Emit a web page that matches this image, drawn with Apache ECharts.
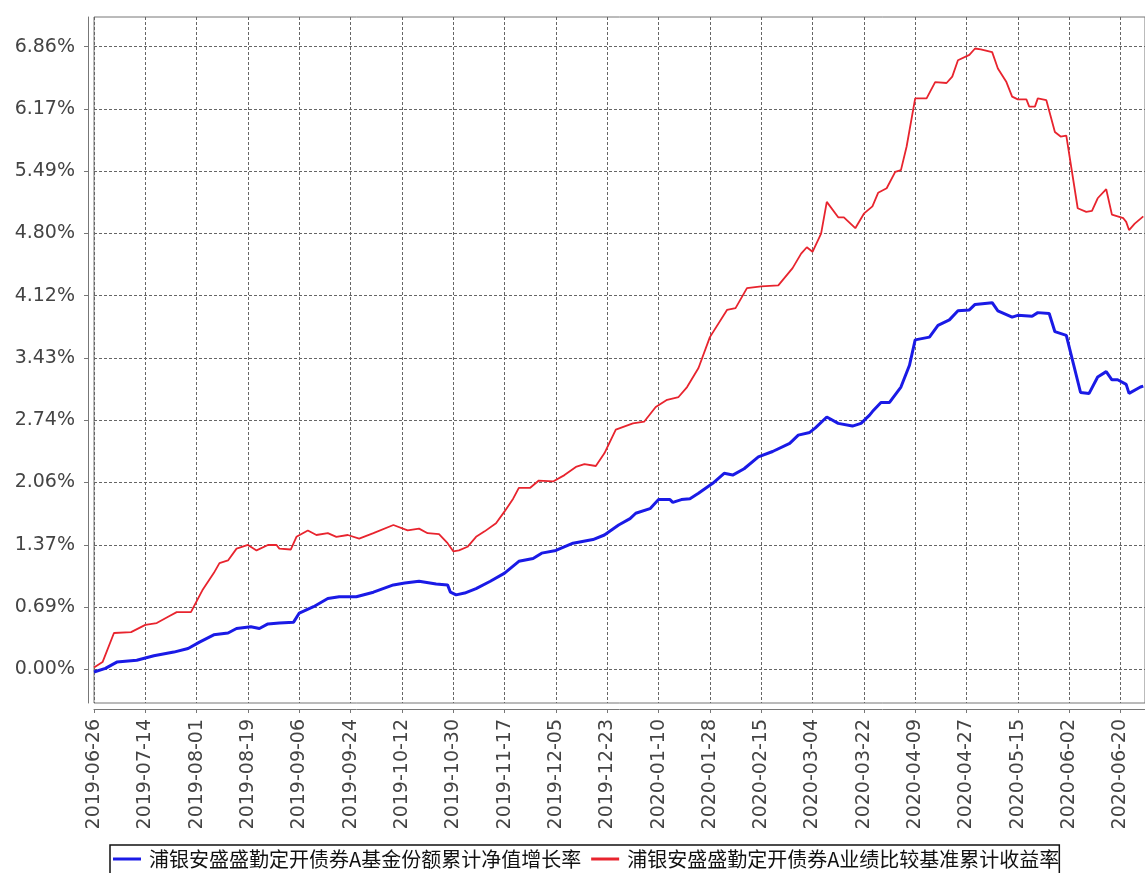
<!DOCTYPE html>
<html>
<head>
<meta charset="utf-8">
<script src="https://cdn.jsdelivr.net/npm/echarts@6/dist/echarts.min.js"></script>
<style>
html,body{margin:0;padding:0;background:#fff;}
#chart{width:1145px;height:873px;}
</style>
</head>
<body>
<div id="chart"></div>
<script>
// ---- data ----
const seriesNames = ['浦银安盛盛勤定开债券A基金份额累计净值增长率', '浦银安盛盛勤定开债券A业绩比较基准累计收益率'];

const xTickLabels = ['2019-06-26','2019-07-14','2019-08-01','2019-08-19','2019-09-06','2019-09-24','2019-10-12','2019-10-30','2019-11-17','2019-12-05','2019-12-23','2020-01-10','2020-01-28','2020-02-15','2020-03-04','2020-03-22','2020-04-09','2020-04-27','2020-05-15','2020-06-02','2020-06-20'];
const yTicks = [0, 0.686, 1.372, 2.058, 2.744, 3.43, 4.116, 4.802, 5.488, 6.174, 6.86];

const fundDates = ['2019-06-26','2019-06-30','2019-07-04','2019-07-11','2019-07-17','2019-07-24','2019-07-29','2019-08-02','2019-08-07','2019-08-12','2019-08-15','2019-08-20','2019-08-23','2019-08-26','2019-08-30','2019-09-04','2019-09-06','2019-09-11','2019-09-16','2019-09-20','2019-09-26','2019-10-02','2019-10-09','2019-10-13','2019-10-18','2019-10-24','2019-10-28','2019-10-29','2019-10-31','2019-11-03','2019-11-07','2019-11-12','2019-11-17','2019-11-22','2019-11-27','2019-11-30','2019-12-05','2019-12-11','2019-12-18','2019-12-22','2019-12-27','2019-12-31','2020-01-02','2020-01-07','2020-01-10','2020-01-14','2020-01-15','2020-01-18','2020-01-21','2020-01-24','2020-01-29','2020-02-02','2020-02-05','2020-02-09','2020-02-14','2020-02-19','2020-02-25','2020-02-28','2020-03-03','2020-03-05','2020-03-09','2020-03-13','2020-03-18','2020-03-21','2020-03-24','2020-03-25','2020-03-28','2020-03-31','2020-04-04','2020-04-07','2020-04-09','2020-04-14','2020-04-17','2020-04-21','2020-04-24','2020-04-28','2020-04-30','2020-05-06','2020-05-08','2020-05-13','2020-05-15','2020-05-20','2020-05-22','2020-05-26','2020-05-28','2020-06-01','2020-06-06','2020-06-09','2020-06-12','2020-06-15','2020-06-17','2020-06-19','2020-06-22','2020-06-23','2020-06-27','2020-06-28'];
const fundValues = [-0.03,0.01,0.08,0.10,0.15,0.19,0.23,0.30,0.38,0.40,0.45,0.47,0.45,0.50,0.51,0.52,0.62,0.69,0.78,0.80,0.80,0.85,0.93,0.95,0.97,0.94,0.93,0.85,0.82,0.84,0.89,0.97,1.06,1.19,1.22,1.28,1.31,1.39,1.43,1.48,1.59,1.66,1.72,1.77,1.87,1.87,1.84,1.87,1.88,1.94,2.05,2.16,2.14,2.21,2.34,2.40,2.49,2.58,2.61,2.66,2.78,2.71,2.68,2.71,2.80,2.84,2.94,2.94,3.11,3.35,3.63,3.66,3.79,3.85,3.95,3.96,4.02,4.04,3.95,3.88,3.90,3.89,3.93,3.92,3.72,3.68,3.05,3.04,3.22,3.28,3.19,3.19,3.14,3.04,3.11,3.12];

const benchDates = ['2019-06-26','2019-06-29','2019-07-03','2019-07-09','2019-07-14','2019-07-18','2019-07-22','2019-07-25','2019-07-30','2019-07-31','2019-08-03','2019-08-07','2019-08-09','2019-08-12','2019-08-15','2019-08-19','2019-08-22','2019-08-26','2019-08-29','2019-08-30','2019-09-03','2019-09-05','2019-09-09','2019-09-12','2019-09-16','2019-09-19','2019-09-23','2019-09-27','2019-10-02','2019-10-09','2019-10-14','2019-10-18','2019-10-21','2019-10-25','2019-10-28','2019-10-30','2019-11-01','2019-11-04','2019-11-07','2019-11-10','2019-11-14','2019-11-17','2019-11-20','2019-11-22','2019-11-26','2019-11-29','2019-12-04','2019-12-08','2019-12-12','2019-12-15','2019-12-19','2019-12-22','2019-12-26','2020-01-01','2020-01-05','2020-01-09','2020-01-13','2020-01-17','2020-01-20','2020-01-24','2020-01-28','2020-02-03','2020-02-06','2020-02-10','2020-02-15','2020-02-21','2020-02-26','2020-02-29','2020-03-02','2020-03-04','2020-03-07','2020-03-09','2020-03-13','2020-03-15','2020-03-19','2020-03-22','2020-03-25','2020-03-27','2020-03-30','2020-04-02','2020-04-04','2020-04-06','2020-04-09','2020-04-13','2020-04-16','2020-04-20','2020-04-22','2020-04-24','2020-04-28','2020-04-30','2020-05-02','2020-05-06','2020-05-08','2020-05-11','2020-05-13','2020-05-15','2020-05-18','2020-05-19','2020-05-21','2020-05-22','2020-05-25','2020-05-28','2020-05-30','2020-06-01','2020-06-05','2020-06-08','2020-06-10','2020-06-12','2020-06-15','2020-06-17','2020-06-21','2020-06-22','2020-06-23','2020-06-25','2020-06-28'];
const benchValues = [0.02,0.08,0.40,0.41,0.49,0.51,0.58,0.63,0.63,0.69,0.87,1.06,1.17,1.20,1.33,1.37,1.31,1.37,1.37,1.33,1.32,1.46,1.53,1.48,1.50,1.46,1.48,1.44,1.50,1.59,1.53,1.55,1.50,1.49,1.39,1.30,1.31,1.35,1.46,1.52,1.61,1.74,1.88,2.00,2.00,2.08,2.07,2.14,2.23,2.26,2.24,2.38,2.64,2.71,2.73,2.89,2.97,3.00,3.11,3.32,3.66,3.96,3.98,4.20,4.22,4.23,4.42,4.58,4.65,4.60,4.80,5.15,4.98,4.98,4.86,5.02,5.10,5.25,5.30,5.48,5.50,5.76,6.29,6.29,6.47,6.46,6.53,6.71,6.77,6.84,6.83,6.80,6.62,6.47,6.31,6.28,6.28,6.20,6.20,6.29,6.27,5.92,5.87,5.88,5.08,5.04,5.05,5.19,5.29,5.01,4.97,4.93,4.84,4.91,4.99];

// ---- helpers ----
const BASE = Date.UTC(2019, 5, 26);
function toDay(s) {
  const p = s.split('-').map(Number);
  return (Date.UTC(p[0], p[1] - 1, p[2]) - BASE) / 86400000;
}
function fromDay(d) {
  const dt = new Date(BASE + Math.round(d) * 86400000);
  const m = String(dt.getUTCMonth() + 1).padStart(2, '0');
  const dd = String(dt.getUTCDate()).padStart(2, '0');
  return dt.getUTCFullYear() + '-' + m + '-' + dd;
}
const xTicks = xTickLabels.map(toDay);
const fundData = fundDates.map((d, i) => [toDay(d), fundValues[i]]);
const benchData = benchDates.map((d, i) => [toDay(d), benchValues[i]]);

const chart = echarts.init(document.getElementById('chart'), null, { renderer: 'canvas' });
const axisColor = '#777';
const gridLine = { show: true, lineStyle: { color: '#666', type: [3, 2], width: 1 } };

chart.setOption({
  animation: false,
  backgroundColor: '#fff',
  grid: {
    left: 94, top: 17, right: -2, bottom: 170,
    show: true, borderColor: axisColor, borderWidth: 1, backgroundColor: '#fff'
  },
  xAxis: {
    type: 'value',
    min: 0,
    max: 368.6,
    offset: 6,
    axisLine: { show: true, onZero: false, lineStyle: { color: axisColor, width: 1 } },
    axisTick: { show: true, length: 4, lineStyle: { color: axisColor }, customValues: xTicks },
    axisLabel: {
      customValues: xTicks,
      rotate: 90,
      margin: 10,
      color: '#444',
      fontFamily: 'DejaVu Sans',
      fontSize: 19,
      formatter: v => fromDay(v)
    },
    splitLine: gridLine
  },
  yAxis: {
    type: 'value',
    min: -0.371,
    max: 7.187,
    offset: 6,
    axisLine: { show: true, onZero: false, lineStyle: { color: axisColor, width: 1 } },
    axisTick: { show: true, length: 4, lineStyle: { color: axisColor }, customValues: yTicks },
    axisLabel: {
      customValues: yTicks,
      margin: 13,
      color: '#444',
      fontFamily: 'DejaVu Sans',
      fontSize: 19,
      formatter: v => v.toFixed(2) + '%'
    },
    splitLine: gridLine
  },
  legend: {
    left: 110,
    top: 845,
    orient: 'horizontal',
    padding: [4, 0, 6, 3],
    itemGap: 10,
    itemWidth: 28,
    itemHeight: 3,
    borderColor: '#111',
    borderWidth: 1.5,
    backgroundColor: '#fff',
    textStyle: { fontFamily: 'Noto Sans CJK SC', fontSize: 20, color: '#111', padding: [0, 0, 0, 3] },
    data: [
      { name: seriesNames[0], icon: 'rect' },
      { name: seriesNames[1], icon: 'rect' }
    ]
  },
  series: [
    {
      name: seriesNames[0],
      type: 'line',
      data: fundData,
      showSymbol: false,
      symbol: 'none',
      lineStyle: { color: '#1a1ae6', width: 3 },
      itemStyle: { color: '#1a1ae6' },
      z: 3
    },
    {
      name: seriesNames[1],
      type: 'line',
      data: benchData,
      showSymbol: false,
      symbol: 'none',
      lineStyle: { color: '#e8242e', width: 1.8 },
      itemStyle: { color: '#e8242e' },
      z: 2
    }
  ]
});
</script>
</body>
</html>
